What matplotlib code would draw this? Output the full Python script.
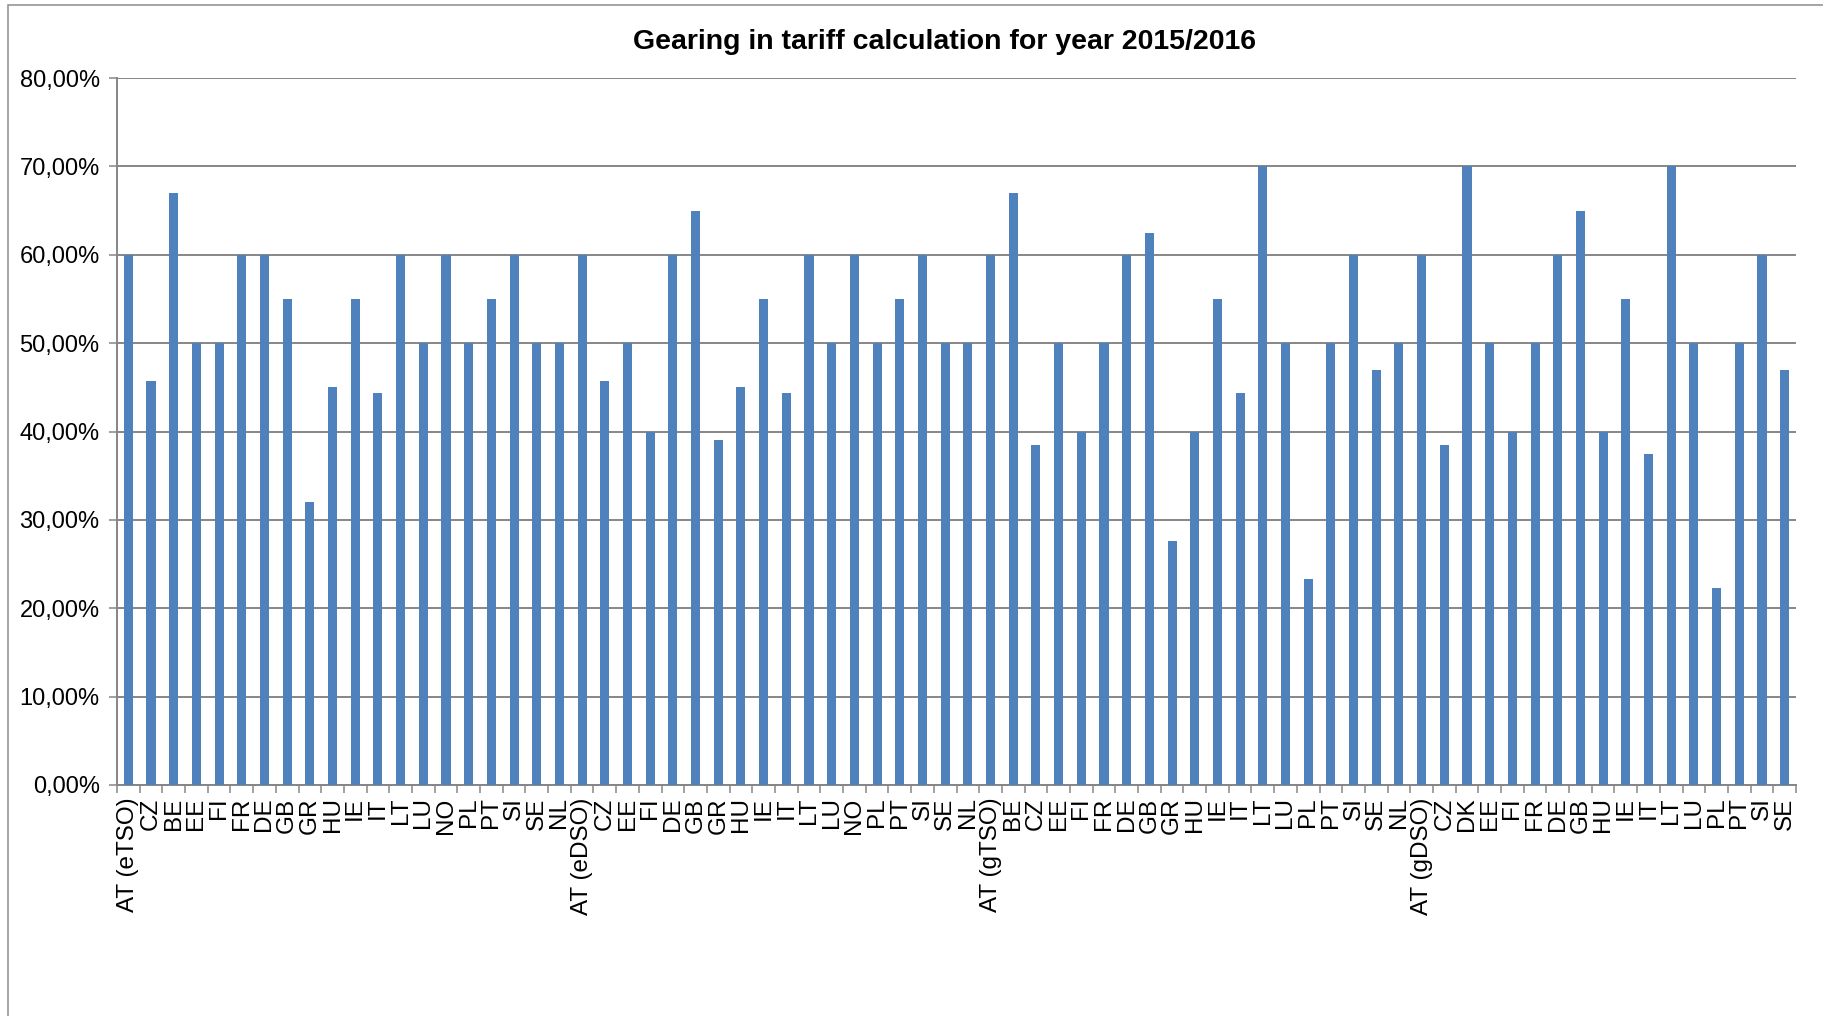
import matplotlib
matplotlib.use("Agg")
import matplotlib.pyplot as plt
from matplotlib.patches import Rectangle
from matplotlib.ticker import FixedLocator, FuncFormatter

# Categories per regulated sector group (first label of each group carries the sector tag)
cats_etso = ["AT (eTSO)", "CZ", "BE", "EE", "FI", "FR", "DE", "GB", "GR", "HU",
             "IE", "IT", "LT", "LU", "NO", "PL", "PT", "SI", "SE", "NL"]
vals_etso = [60, 45.7, 67, 50, 50, 60, 60, 55, 32, 45,
             55, 44.4, 60, 50, 60, 50, 55, 60, 50, 50]

cats_edso = ["AT (eDSO)", "CZ", "EE", "FI", "DE", "GB", "GR", "HU", "IE", "IT",
             "LT", "LU", "NO", "PL", "PT", "SI", "SE", "NL"]
vals_edso = [60, 45.7, 50, 40, 60, 65, 39, 45, 55, 44.4,
             60, 50, 60, 50, 55, 60, 50, 50]

cats_gtso = ["AT (gTSO)", "BE", "CZ", "EE", "FI", "FR", "DE", "GB", "GR", "HU",
             "IE", "IT", "LT", "LU", "PL", "PT", "SI", "SE", "NL"]
vals_gtso = [60, 67, 38.5, 50, 40, 50, 60, 62.5, 27.6, 40,
             55, 44.4, 70, 50, 23.3, 50, 60, 47, 50]

cats_gdso = ["AT (gDSO)", "CZ", "DK", "EE", "FI", "FR", "DE", "GB", "HU", "IE",
             "IT", "LT", "LU", "PL", "PT", "SI", "SE"]
vals_gdso = [60, 38.5, 70, 50, 40, 50, 60, 65, 40, 55,
             37.5, 70, 50, 22.3, 50, 60, 47]

y_ticks = [0, 10, 20, 30, 40, 50, 60, 70, 80]

labels = cats_etso + cats_edso + cats_gtso + cats_gdso
values = vals_etso + vals_edso + vals_gtso + vals_gdso

BAR = "#4F81BD"
GRID = "#868686"
FONT = "Liberation Sans"

plt.rcParams["font.family"] = [FONT, "DejaVu Sans"]

fig = plt.figure(figsize=(18.23, 10.16), dpi=100)
fig.patch.set_facecolor("white")

# outer chart-area frame (only the left and top edges fall inside the canvas)
fig.patches.append(Rectangle((8 / 1823, -0.2), 1.5, 1.2 - 5 / 1016,
                             transform=fig.transFigure, fill=False,
                             edgecolor="#8c8c8c", linewidth=1.1, zorder=0))

ax = fig.add_axes([117 / 1823, 1 - 785 / 1016, (1796 - 117) / 1823, (785 - 78) / 1016])

x = list(range(len(values)))
ax.bar(x, values, width=0.4, color=BAR, zorder=3)

ax.set_xlim(-0.5, len(values) - 0.5)
ax.set_ylim(0, 80)

ax.set_yticks(y_ticks)
ax.yaxis.set_major_formatter(FuncFormatter(lambda v, p: f"{v:.2f}".replace(".", ",") + "%"))
ax.grid(axis="y", color=GRID, linewidth=1.4, zorder=1)
ax.set_axisbelow(True)

ax.set_xticks(x)
ax.set_xticklabels(labels, rotation=90, ha="center", va="top")
ax.xaxis.set_minor_locator(FixedLocator([i - 0.5 for i in range(len(values) + 1)]))
ax.tick_params(axis="x", which="major", length=0, pad=9, labelsize=17.5)
ax.tick_params(axis="x", which="minor", length=6, width=1.1, color=GRID, direction="out")
ax.tick_params(axis="y", which="major", length=6, width=1.1, color=GRID, labelsize=17, pad=6.5)

for side in ("top", "right"):
    ax.spines[side].set_visible(False)
for side in ("left", "bottom"):
    ax.spines[side].set_color(GRID)
    ax.spines[side].set_linewidth(1.4)

fig.text(944 / 1823, 1 - 42 / 1016, "Gearing in tariff calculation for year 2015/2016",
         ha="center", va="center", fontsize=20.5, fontweight="bold")

fig.savefig("out.png", dpi=100, facecolor="white")
